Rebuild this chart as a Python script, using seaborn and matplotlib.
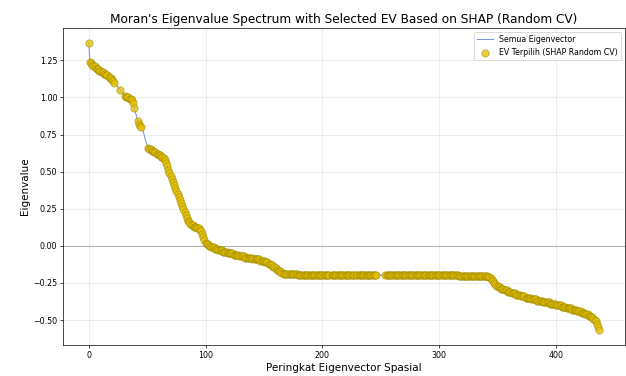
import matplotlib
matplotlib.use("Agg")
import matplotlib.pyplot as plt
import seaborn as sns
import numpy as np
import pandas as pd

# Eigenvalues of Moran's spectrum (sorted, descending)
eig_top = [1.37,
    1.24, 1.23, 1.22, 1.21, 1.21, 1.20, 1.19, 1.19, 1.18, 1.18,
    1.17, 1.17, 1.16, 1.16, 1.15, 1.15, 1.14, 1.13, 1.13,
    1.12, 1.11, 1.10, 1.09, 1.08, 1.07, 1.06, 1.05, 1.04, 1.03, 1.02, 1.01,
    1.00, 1.00, 1.00, 0.99, 0.99, 0.98, 0.96, 0.93,
    0.90, 0.87, 0.84, 0.82, 0.81, 0.80, 0.79, 0.76,
    0.73, 0.70, 0.68, 0.66, 0.65, 0.65, 0.64, 0.64,
    0.63, 0.63, 0.62, 0.62, 0.61, 0.61, 0.60, 0.60, 0.59, 0.58,
    0.56, 0.54, 0.51, 0.49, 0.47, 0.45, 0.43, 0.41, 0.39, 0.37,
    0.35, 0.33, 0.31, 0.29, 0.27, 0.25, 0.23, 0.21, 0.19, 0.17,
    0.16, 0.15, 0.14, 0.14, 0.13, 0.13, 0.13, 0.12, 0.12, 0.11, 0.10, 0.08,
    0.06, 0.04, 0.02, 0.01, 0.01, 0.00, 0.00, -0.01]

eig_mid = [
    -0.01, -0.01, -0.02, -0.02, -0.02, -0.03, -0.03, -0.03, -0.03, -0.04,
    -0.04, -0.04, -0.04, -0.05, -0.05, -0.05, -0.05, -0.05, -0.06, -0.06,
    -0.06, -0.06, -0.06, -0.07, -0.07, -0.07, -0.07, -0.07, -0.08, -0.08,
    -0.08, -0.08, -0.08, -0.08, -0.09,
    -0.08, -0.09, -0.09, -0.09, -0.09, -0.09, -0.10, -0.10, -0.10, -0.10,
    -0.11, -0.11, -0.11, -0.12, -0.12, -0.13, -0.13, -0.14, -0.14, -0.15,
    -0.16, -0.16, -0.17, -0.17, -0.18, -0.18, -0.19, -0.19, -0.19, -0.19,
    -0.19, -0.19]

eig_flat = [
    -0.192, -0.192, -0.193, -0.193, -0.193, -0.193, -0.194, -0.194, -0.194, -0.194,
    -0.194, -0.194, -0.195, -0.195, -0.195, -0.195, -0.195, -0.195, -0.195, -0.195,
    -0.196, -0.196, -0.196, -0.196, -0.196, -0.196, -0.196, -0.196, -0.196, -0.196,
    -0.196, -0.196, -0.196, -0.196, -0.197, -0.197, -0.197, -0.197, -0.197, -0.197,
    -0.197, -0.197, -0.197, -0.197, -0.197, -0.197, -0.197, -0.197, -0.197, -0.197,
    -0.197, -0.197, -0.197, -0.198, -0.198, -0.198, -0.198, -0.198, -0.198, -0.198,
    -0.198, -0.198, -0.198, -0.198, -0.198, -0.198, -0.198, -0.198, -0.198, -0.198,
    -0.198, -0.198, -0.198, -0.198, -0.198, -0.198, -0.198, -0.198, -0.198, -0.198,
    -0.198, -0.198, -0.198, -0.198, -0.198, -0.198, -0.198, -0.198, -0.198, -0.198,
    -0.198, -0.198, -0.198, -0.198, -0.198, -0.198, -0.199, -0.199, -0.199, -0.199,
    -0.199, -0.199, -0.199, -0.199, -0.199, -0.199, -0.199, -0.199, -0.199, -0.199,
    -0.199, -0.199, -0.199, -0.199, -0.199, -0.199, -0.199, -0.199, -0.199, -0.199,
    -0.200, -0.200, -0.200, -0.200, -0.200, -0.200, -0.200, -0.200, -0.200, -0.200,
    -0.200, -0.200, -0.200, -0.200, -0.200, -0.200, -0.200, -0.200, -0.200, -0.200,
    -0.200, -0.200, -0.200, -0.200, -0.201, -0.201, -0.201, -0.201, -0.201, -0.201,
    -0.201, -0.201, -0.201, -0.201, -0.201, -0.201, -0.202, -0.202, -0.202, -0.202,
    -0.202, -0.202, -0.202, -0.202, -0.202, -0.203, -0.203, -0.204, -0.205]

eig_tail = [
    -0.21, -0.21, -0.22, -0.23, -0.24, -0.25, -0.26, -0.27, -0.27, -0.28, -0.28,
    -0.29, -0.29, -0.29, -0.30, -0.30, -0.30, -0.31, -0.31, -0.31, -0.32,
    -0.32, -0.32, -0.32, -0.33, -0.33, -0.33, -0.33, -0.34, -0.34, -0.34,
    -0.34, -0.35, -0.35, -0.35, -0.35, -0.35, -0.36, -0.36, -0.36, -0.36,
    -0.36, -0.37, -0.37, -0.37, -0.37, -0.37, -0.38, -0.38, -0.38, -0.38,
    -0.38, -0.38, -0.39, -0.39, -0.39, -0.39, -0.39, -0.40, -0.40, -0.40,
    -0.40, -0.40, -0.41, -0.41, -0.41, -0.41, -0.42, -0.42, -0.42, -0.42,
    -0.42, -0.43, -0.43, -0.43, -0.43, -0.44, -0.44, -0.44, -0.44, -0.45,
    -0.45, -0.45, -0.46, -0.46, -0.46, -0.47, -0.47, -0.48, -0.48, -0.49,
    -0.50, -0.51, -0.53, -0.55, -0.57]

eigenvalues = eig_top + eig_mid + eig_flat + eig_tail

# Eigenvectors NOT selected by SHAP (Random CV)
not_selected = [23, 24, 25, 26, 28, 29, 30, 40, 41, 46, 47, 48, 49, 50,
                207, 228, 247, 248, 249, 250, 251, 252, 253]

title = "Moran's Eigenvalue Spectrum with Selected EV Based on SHAP (Random CV)"
xlabel = "Peringkat Eigenvector Spasial"
ylabel = "Eigenvalue"
label_all = "Semua Eigenvector"
label_sel = "EV Terpilih (SHAP Random CV)"

df = pd.DataFrame({"rank": np.arange(len(eigenvalues)), "eig": eigenvalues})
sel = df[~df["rank"].isin(not_selected)]

fig = plt.figure(figsize=(10, 6.007), dpi=62.6)
ax = fig.add_axes([0.101, 0.083, 0.897, 0.842])

sns.lineplot(data=df, x="rank", y="eig", ax=ax, color="royalblue", alpha=0.7,
             linewidth=1.2, label=label_all)
sns.scatterplot(data=sel, x="rank", y="eig", ax=ax, color="#E6C000", alpha=0.75,
                s=70, edgecolor="#9c8a00", linewidth=0.8, label=label_sel,
                zorder=3)
ax.axhline(0, color="gray", linewidth=1.2, alpha=0.6, zorder=1)

ax.set_title(title, fontsize=14)
ax.set_xlabel(xlabel, fontsize=12)
ax.set_ylabel(ylabel, fontsize=12)
ax.tick_params(labelsize=9)
ax.set_xticks([0, 100, 200, 300, 400])
ax.grid(True, alpha=0.3)
ax.legend(loc="upper right", fontsize=9)

fig.savefig("out.png", dpi=62.6)
